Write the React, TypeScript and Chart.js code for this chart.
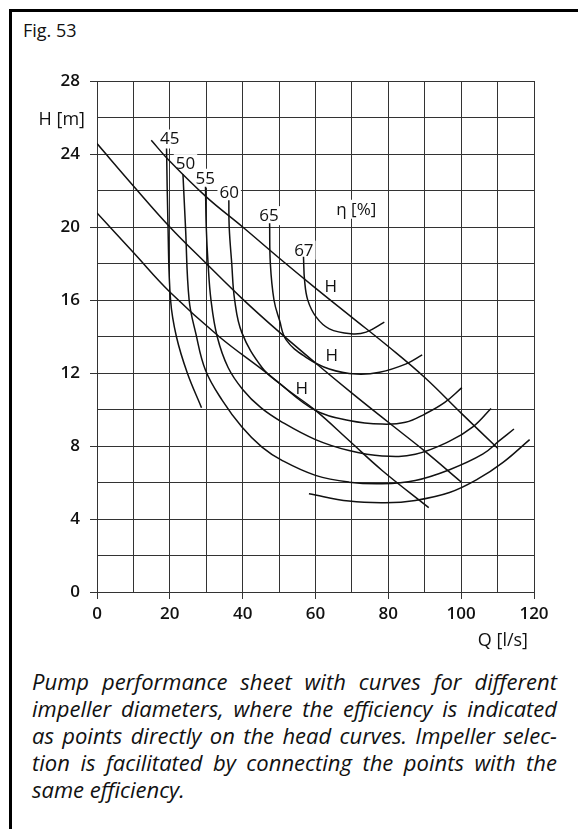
import React, { useEffect, useRef } from 'react';
import { Chart, registerables } from 'chart.js';

Chart.register(...registerables);

const FONT = "'Open Sans', 'Noto Sans', 'DejaVu Sans', sans-serif";
const GRID = '#333333';
const INK = '#111111';

// ---- axes ----
const xLabelTicks = [0, 20, 40, 60, 80, 100, 120];
const yLabelTicks = [0, 4, 8, 12, 16, 20, 24, 28];
const xTitle = 'Q [l/s]';
const yTitle = 'H [m]';

// ---- head curves H(Q), three impeller diameters ----
const headAQ = [14.9, 20, 30, 40, 50, 60, 70, 80, 90, 100, 110.1];
const headAH = [24.75, 23.6, 21.65, 20.0, 18.3, 16.65, 15.05, 13.45, 11.75, 9.8, 7.86];
const headBQ = [0, 10, 20, 30, 40, 50, 60, 70, 80, 90, 100];
const headBH = [24.57, 22.25, 20.0, 18.0, 16.05, 14.25, 12.55, 10.9, 9.3, 7.72, 6.03];
const headCQ = [0, 10, 20, 33.5, 46.2, 52.5, 60, 69.2, 78.3, 91.1];
const headCH = [20.77, 18.6, 16.44, 14.0, 12.06, 11.05, 9.95, 8.3, 6.66, 4.62];

// ---- iso-efficiency curves ----
const eff45aQ = [19.1, 19.5, 20.2, 21.8, 24.8, 28.7];
const eff45aH = [24.3, 20, 16, 14, 12, 10.1];
const eff45bQ = [58.2, 69.2, 79.2, 87.4, 96.8, 104.5, 111.5, 118.8];
const eff45bH = [5.38, 4.98, 4.89, 5.02, 5.45, 6.18, 7.1, 8.35];
const eff50Q = [23.6, 24.3, 25.3, 27.1, 29.8, 34.4, 39.8, 45.3, 50.9, 60, 69.2, 78.3, 87.4, 96.8, 105.9, 110.5, 114.5];
const eff50H = [22.9, 20, 16, 14.2, 12.15, 10.5, 9.04, 7.94, 7.2, 6.39, 6.02, 5.93, 6.11, 6.7, 7.55, 8.29, 8.93];
const eff55Q = [29.8, 30.0, 30.5, 31.3, 33.0, 36.0, 40, 45, 50.9, 60, 69.2, 78.3, 87.4, 96.7, 103.2, 108.2];
const eff55H = [22.2, 20, 18, 16, 14, 12.3, 11.1, 10.1, 9.3, 8.35, 7.75, 7.45, 7.55, 8.25, 9.05, 10.06];
const eff60Q = [36.2, 36.3, 37.0, 37.8, 39.8, 45.3, 50, 60, 69.2, 78.3, 84.7, 90, 95.5, 100.2];
const eff60H = [21.46, 20, 18, 16, 14.2, 12.3, 11.45, 9.95, 9.4, 9.2, 9.3, 9.75, 10.39, 11.2];
const eff65Q = [47.4, 47.6, 48.6, 50.1, 52, 57.4, 63.8, 71.2, 77.6, 84.9, 89.3];
const eff65H = [20.2, 18, 16, 14.9, 13.8, 12.86, 12.22, 11.94, 12.04, 12.5, 12.99];
const eff67Q = [56.7, 57, 57.9, 60.2, 63.8, 69.8, 73.9, 78.9];
const eff67H = [18.37, 17.08, 15.98, 15.06, 14.42, 14.15, 14.24, 14.79];

// ---- curve labels ----
const effLabels = ['45', '50', '55', '60', '65', '67'];
const effLabelQ = [20, 24.3, 29.7, 36.3, 47.2, 56.8];
const effLabelH = [24.85, 23.5, 22.7, 21.9, 20.65, 18.76];
const headLabels = ['H', 'H', 'H'];
const headLabelQ = [64.2, 64.5, 56.2];
const headLabelH = [16.75, 12.99, 11.18];
const etaLabel = 'η [%]';
const etaLabelQ = 71.2;
const etaLabelH = 21.0;

const figTitle = 'Fig. 53';
const captionLines = [
  'Pump performance sheet with curves for different',
  'impeller diameters, where the efficiency is indicated',
  'as points directly on the head curves. Impeller selec-',
  'tion is facilitated by connecting the points with the',
  'same efficiency.',
];

const curves: [number[], number[]][] = [
  [headAQ, headAH], [headBQ, headBH], [headCQ, headCH],
  [eff45aQ, eff45aH], [eff45bQ, eff45bH], [eff50Q, eff50H], [eff55Q, eff55H],
  [eff60Q, eff60H], [eff65Q, eff65H], [eff67Q, eff67H],
];

const labelPlugin = {
  id: 'curveLabels',
  beforeDatasetsDraw(chart: any) {
    const { ctx, scales } = chart;
    const xs = scales.x, ys = scales.y;
    ctx.save();
    ctx.font = `17px ${FONT}`;
    ctx.textAlign = 'center';
    ctx.textBaseline = 'alphabetic';
    const draw = (t: string, q: number, h: number) => {
      const px = xs.getPixelForValue(q);
      const py = ys.getPixelForValue(h);
      const w = ctx.measureText(t).width;
      ctx.fillStyle = '#ffffff';
      ctx.fillRect(px - w / 2 - 2, py - 9, w + 4, 19);
      ctx.fillStyle = INK;
      ctx.fillText(t, px, py + 6);
    };
    effLabels.forEach((t, i) => draw(t, effLabelQ[i], effLabelH[i]));
    headLabels.forEach((t, i) => draw(t, headLabelQ[i], headLabelH[i]));
    draw(etaLabel, etaLabelQ, etaLabelH);
    ctx.restore();
  },
  afterDraw(chart: any) {
    const { ctx, scales, chartArea } = chart;
    ctx.save();
    ctx.font = `18px ${FONT}`;
    ctx.fillStyle = INK;
    ctx.textAlign = 'right';
    ctx.textBaseline = 'alphabetic';
    ctx.fillText(yTitle, chartArea.left - 12, scales.y.getPixelForValue(26) + 7);
    ctx.fillText(xTitle, chartArea.right - 6, chartArea.bottom + 54);
    ctx.restore();
  },
};

export default function App() {
  const ref = useRef<HTMLCanvasElement>(null);
  useEffect(() => {
    const datasets = curves.map(([qs, hs]) => ({
      data: qs.map((q, i) => ({ x: q, y: hs[i] })),
      showLine: true,
      borderColor: INK,
      borderWidth: 1.5,
      pointRadius: 0,
      tension: 0.4,
      fill: false,
    }));
    const chart = new Chart(ref.current as HTMLCanvasElement, {
      type: 'scatter',
      data: { datasets },
      options: {
        responsive: false,
        animation: false,
        devicePixelRatio: 1,
        layout: { padding: { left: 0, right: 44, top: 81, bottom: 8 } },
        plugins: { legend: { display: false }, tooltip: { enabled: false }, title: { display: false } },
        scales: {
          x: {
            type: 'linear',
            min: 0,
            max: 120,
            afterFit: (s: any) => { s.height = 50; },
            ticks: {
              stepSize: 10,
              padding: 5,
              autoSkip: false,
              maxRotation: 0,
              color: INK,
              font: { family: FONT, size: 17, weight: '600' },
              callback: (v: any) => (xLabelTicks.includes(Number(v)) ? String(v) : ''),
            },
            grid: {
              color: GRID,
              lineWidth: 1,
              tickLength: 7,
              tickColor: (c: any) => (c.tick && xLabelTicks.includes(c.tick.value) ? GRID : 'rgba(0,0,0,0)'),
            },
            border: { color: GRID, width: 1 },
          },
          y: {
            type: 'linear',
            min: 0,
            max: 28,
            afterFit: (s: any) => { s.width = 97; },
            ticks: {
              stepSize: 2,
              padding: 10,
              autoSkip: false,
              color: INK,
              font: { family: FONT, size: 17, weight: '600' },
              callback: (v: any) => (yLabelTicks.includes(Number(v)) ? String(v) : ''),
            },
            grid: {
              color: GRID,
              lineWidth: 1,
              tickLength: 7,
              tickColor: (c: any) => (c.tick && yLabelTicks.includes(c.tick.value) ? GRID : 'rgba(0,0,0,0)'),
            },
            border: { color: GRID, width: 1 },
          },
        },
      },
      plugins: [labelPlugin],
    } as any);
    return () => chart.destroy();
  }, []);

  return (
    <div style={{ position: 'absolute', left: 0, top: 0, width: 578, height: 829, overflow: 'hidden', background: '#fff' }}>
      <div style={{ position: 'absolute', left: 9, top: 9, width: 700, height: 900, borderTop: '3px solid #000', borderLeft: '3px solid #000' }} />
      <div style={{ position: 'absolute', left: 23, top: 18, font: `18px/24px ${FONT}`, color: INK }}>{figTitle}</div>
      <canvas ref={ref} width={578} height={650} style={{ position: 'absolute', left: 0, top: 0, width: 578, height: 650 }} />
      <div style={{ position: 'absolute', left: 32, top: 668, width: 525, font: `italic 22px/27px ${FONT}`, color: INK }}>
        {captionLines.map((l, i) => (
          <div key={i} style={{ whiteSpace: 'nowrap', textAlign: 'justify', textAlignLast: i === captionLines.length - 1 ? 'left' : 'justify' } as any}>{l}</div>
        ))}
      </div>
    </div>
  );
}
